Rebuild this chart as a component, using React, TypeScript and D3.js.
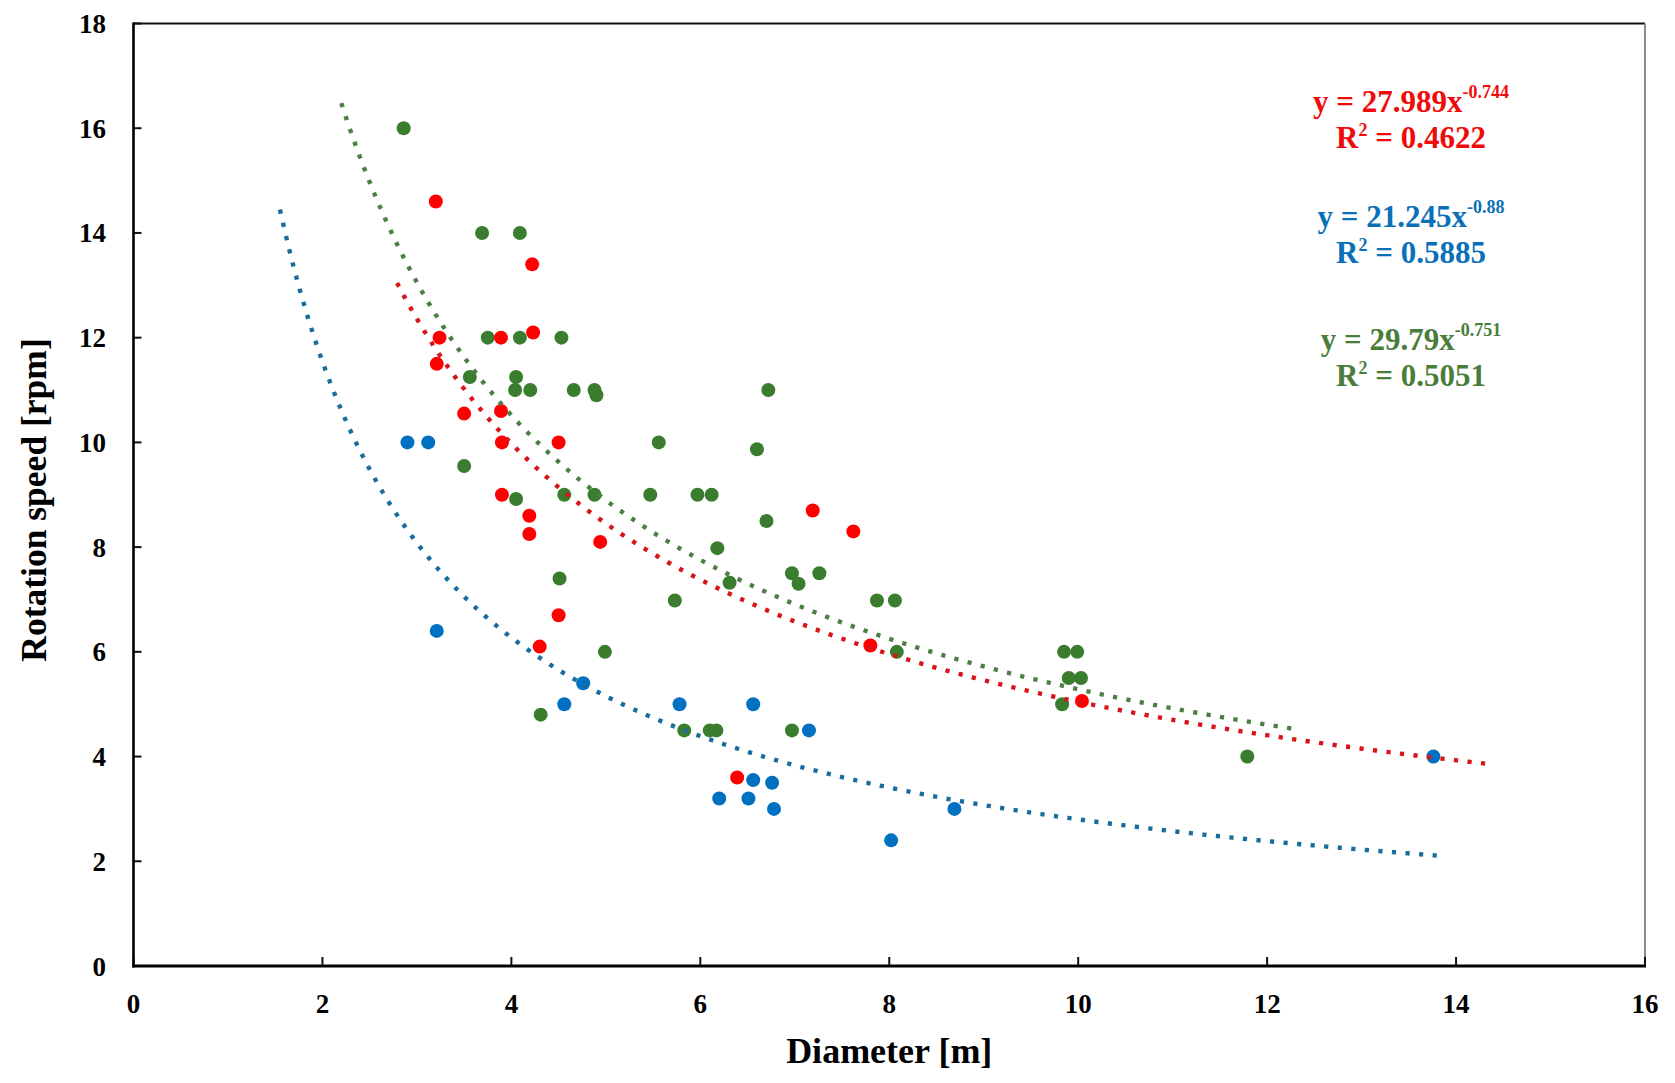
import React from "react";
import * as d3 from "d3";

// ---------- data ----------
const blueD = [2.9, 3.12, 3.21, 4.56, 4.76, 5.78, 6.56, 6.56, 6.76, 6.2, 6.51, 6.78, 7.15, 8.69, 8.02, 13.76];
const blueN = [10.0, 10.0, 6.4, 5.0, 5.4, 5.0, 5.0, 3.55, 3.5, 3.2, 3.2, 3.0, 4.5, 3.0, 2.4, 4.0];

const redD = [3.2, 4.22, 4.23, 3.89, 3.24, 3.21, 3.5, 3.89, 3.9, 4.5, 3.9, 4.19, 4.19, 4.94, 7.19, 7.62, 4.5, 4.3, 7.8, 10.04, 6.39];
const redN = [14.6, 13.4, 12.1, 12.0, 12.0, 11.5, 10.55, 10.6, 10.0, 10.0, 9.0, 8.6, 8.25, 8.1, 8.7, 8.3, 6.7, 6.1, 6.12, 5.06, 3.6];

const greenD = [2.86, 3.69, 4.09, 3.75, 4.09, 4.53, 3.56, 4.05, 4.04, 4.2, 4.66, 4.88, 4.9, 6.72, 5.56, 6.6, 3.5, 4.05, 4.56, 4.88, 5.47, 5.97, 6.12, 6.7, 6.18, 6.31, 6.97, 7.04, 7.26, 4.51, 5.73, 7.87, 8.06, 4.99, 8.08, 9.85, 9.99, 9.9, 10.03, 9.83, 4.31, 5.83, 6.1, 6.17, 6.97, 11.79];
const greenN = [16.0, 14.0, 14.0, 12.0, 12.0, 12.0, 11.25, 11.25, 11.0, 11.0, 11.0, 11.0, 10.9, 11.0, 10.0, 9.87, 9.55, 8.92, 9.0, 9.0, 9.0, 9.0, 9.0, 8.5, 7.98, 7.32, 7.5, 7.3, 7.5, 7.4, 6.98, 6.98, 6.98, 6.0, 6.0, 6.0, 6.0, 5.5, 5.5, 5.0, 4.8, 4.5, 4.5, 4.5, 4.5, 4.0];

// power trendlines y = a * x^b, drawn over [from, to]
const trendNames = ["green", "blue", "red"];
const trendA = [29.79, 21.245, 27.989];
const trendB = [-0.751, -0.88, -0.744];
const trendFrom = [2.2, 1.55, 2.79];
const trendTo = [12.27, 13.81, 14.34];
const trendR2 = ["0.5051", "0.5885", "0.4622"];
const trendEqA = ["29.79", "21.245", "27.989"];
const trendEqB = ["-0.751", "-0.88", "-0.744"];

const xTicks = [0, 2, 4, 6, 8, 10, 12, 14, 16];
const yTicks = [0, 2, 4, 6, 8, 10, 12, 14, 16, 18];

const xTitle = "Diameter [m]";
const yTitle = "Rotation speed [rpm]";

// ---------- styles ----------
const W = 1675;
const H = 1083;
const L = 133.5, R = 1645, T = 23.5, B = 966;
const FONT = "'Liberation Serif', 'Times New Roman', 'DejaVu Serif', serif";

const markerColor: Record<string, string> = { red: "#ff0000", blue: "#0070c0", green: "#3b7d2f" };
const trendColor: Record<string, string> = { red: "#d8141a", blue: "#1a6c9c", green: "#4c7f43" };
const eqColor: Record<string, string> = { red: "#f00a0a", blue: "#0a70b8", green: "#4a7d3a" };
const eqY: Record<string, number> = { red: 112, blue: 227, green: 350 };

export default function App() {
  const x = d3.scaleLinear().domain([0, 16]).range([L, R]);
  const y = d3.scaleLinear().domain([0, 18]).range([B, T]);

  const series = [
    { name: "green", d: greenD, n: greenN },
    { name: "blue", d: blueD, n: blueN },
    { name: "red", d: redD, n: redN },
  ];

  const line = d3
    .line<[number, number]>()
    .x((p) => x(p[0]))
    .y((p) => y(p[1]));

  const trends = trendNames.map((name, i) => {
    const pts: [number, number][] = d3
      .range(trendFrom[i], trendTo[i] + 1e-9, 0.02)
      .map((v) => [v, trendA[i] * Math.pow(v, trendB[i])]);
    return { name, path: line(pts) || "" };
  });

  return (
    <div style={{ position: "absolute", left: 0, top: 0, width: W, height: H, overflow: "hidden", background: "#fff" }}>
      <svg width={W} height={H} style={{ display: "block" }} fontFamily={FONT}>
        <rect x={0} y={0} width={W} height={H} fill="#fff" />

        {/* frame */}
        <line x1={L} y1={T} x2={R} y2={T} stroke="#111" strokeWidth={2} />
        <line x1={R} y1={T} x2={R} y2={B} stroke="#8a8a8a" strokeWidth={2} />

        {/* ticks */}
        {yTicks.map((t) => (
          <line key={"yt" + t} x1={L} x2={L + 8} y1={y(t)} y2={y(t)} stroke="#111" strokeWidth={2} />
        ))}
        {xTicks.map((t) => (
          <line key={"xt" + t} x1={x(t)} x2={x(t)} y1={B} y2={B - 9} stroke="#111" strokeWidth={2} />
        ))}

        {/* points */}
        {series.map((s) => (
          <g key={s.name} fill={markerColor[s.name]}>
            {s.d.map((dv, i) => (
              <circle key={i} cx={x(dv)} cy={y(s.n[i])} r={7} />
            ))}
          </g>
        ))}

        {/* trendlines */}
        {trends.map((t) => (
          <path
            key={t.name}
            d={t.path}
            fill="none"
            stroke={trendColor[t.name]}
            strokeWidth={4.4}
            strokeDasharray="4.2 9.4"
            strokeLinecap="butt"
          />
        ))}

        {/* axes lines */}
        <line x1={L} y1={T - 1} x2={L} y2={B + 1.5} stroke="#000" strokeWidth={2.6} />
        <line x1={L - 1} y1={B} x2={R + 1} y2={B} stroke="#000" strokeWidth={3.2} />

        {/* tick labels */}
        {yTicks.map((t) => (
          <text
            key={"yl" + t}
            x={106}
            y={y(t) + 9.5}
            textAnchor="end"
            fontSize={27}
            fontWeight="bold"
            fill="#000"
          >
            {t}
          </text>
        ))}
        {xTicks.map((t) => (
          <text
            key={"xl" + t}
            x={x(t)}
            y={1013}
            textAnchor="middle"
            fontSize={27}
            fontWeight="bold"
            fill="#000"
          >
            {t}
          </text>
        ))}

        {/* axis titles */}
        <text x={(L + R) / 2} y={1063} textAnchor="middle" fontSize={36} fontWeight="bold" fill="#000">
          {xTitle}
        </text>
        <text
          transform={`translate(46, 500) rotate(-90)`}
          textAnchor="middle"
          fontSize={35.5}
          fontWeight="bold"
          fill="#000"
        >
          {yTitle}
        </text>

        {/* equations */}
        {trendNames.map((name, i) => (
          <g key={"eq" + name} fill={eqColor[name]} fontWeight="bold">
            <text x={1411} y={eqY[name]} textAnchor="middle" fontSize={31}>
              <tspan>{`y = ${trendEqA[i]}x`}</tspan>
              <tspan fontSize={18} dy={-14}>{trendEqB[i]}</tspan>
            </text>
            <text x={1411} y={eqY[name] + 36} textAnchor="middle" fontSize={31}>
              <tspan>R</tspan>
              <tspan fontSize={18} dy={-12}>2</tspan>
              <tspan dy={12}>{` = ${trendR2[i]}`}</tspan>
            </text>
          </g>
        ))}
      </svg>
    </div>
  );
}
